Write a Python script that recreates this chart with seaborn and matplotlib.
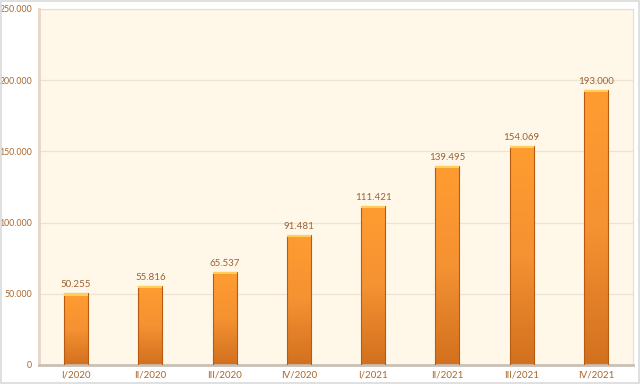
import matplotlib
matplotlib.use("Agg")
import matplotlib.pyplot as plt
import matplotlib.colors as mcolors
import matplotlib.patches as mpatches
import numpy as np
import pandas as pd
import seaborn as sns

# Dados do gráfico
trimestres = ["I/2020", "II/2020", "III/2020", "IV/2020",
              "I/2021", "II/2021", "III/2021", "IV/2021"]
valores = [50255, 55816, 65537, 91481, 111421, 139495, 154069, 193000]
yticks = [0, 50000, 100000, 150000, 200000, 250000]

cor_texto = "#A8672E"
cor_fundo = "#FFF7E8"

df = pd.DataFrame({"trimestre": trimestres, "valor": valores})


def fmt(v):
    return f"{v:,.0f}".replace(",", ".")


sns.set_style("white")
plt.rcParams["font.family"] = ["Lato", "DejaVu Sans"]

fig = plt.figure(figsize=(6.4, 3.84), dpi=100)
ax = fig.add_axes([39 / 640, 1 - 365 / 384, 594 / 640, 356 / 384])
ax.set_facecolor(cor_fundo)

# borda clara em volta da figura
fig.patches.append(mpatches.Rectangle((0.001, 0.002), 0.998, 0.996,
                                      transform=fig.transFigure, fill=False,
                                      edgecolor="#DADADA", linewidth=1.2))

sns.barplot(data=df, x="trimestre", y="valor", color="#F0902C",
            width=0.32, ax=ax, saturation=1)

ax.set_ylim(0, 250000)
ax.set_xlim(-0.5, len(trimestres) - 0.5)
ax.set_yticks(yticks)
ax.set_yticklabels([fmt(v) for v in yticks])
ax.yaxis.grid(True, color="#EDE3D3", linewidth=0.9)
ax.set_axisbelow(True)
ax.set_xlabel("")
ax.set_ylabel("")
ax.tick_params(axis="x", length=0, labelsize=7, colors=cor_texto, pad=4)
ax.tick_params(axis="y", length=0, labelsize=6.3, colors=cor_texto, pad=5)

for lado in ["top", "right"]:
    ax.spines[lado].set_color("#E8DCCB")
ax.spines["left"].set_color("#E6D6C6")
ax.spines["left"].set_linewidth(2)
ax.spines["bottom"].set_color("#C9C0B6")
ax.spines["bottom"].set_linewidth(2)

# Gradiente nas barras
cmap = mcolors.LinearSegmentedColormap.from_list(
    "laranja", ["#D2701F", "#F59232", "#FF9C30"])
grad = np.linspace(0, 1, 256).reshape(-1, 1)
for patch, v in zip(ax.patches, valores):
    x0 = patch.get_x()
    w = patch.get_width()
    patch.set_facecolor("none")
    patch.set_edgecolor("#B85A12")
    patch.set_linewidth(0.8)
    img = ax.imshow(grad, extent=[x0, x0 + w, 0, v], origin="lower",
                    cmap=cmap, aspect="auto", zorder=2)
    img.set_clip_path(patch)
    patch.set_zorder(3)
    # faixa clara no topo
    ax.fill_between([x0, x0 + w], v - 1500, v, color="#FFCF5A", zorder=3,
                    linewidth=0)
    ax.text(x0 + w / 2, v + 2800, fmt(v), ha="center", va="bottom",
            fontsize=7, color="#9A6235")

ax.set_xlim(-0.5, len(trimestres) - 0.5)
ax.set_ylim(0, 250000)

fig.savefig("out.png", dpi=100, facecolor="white")
